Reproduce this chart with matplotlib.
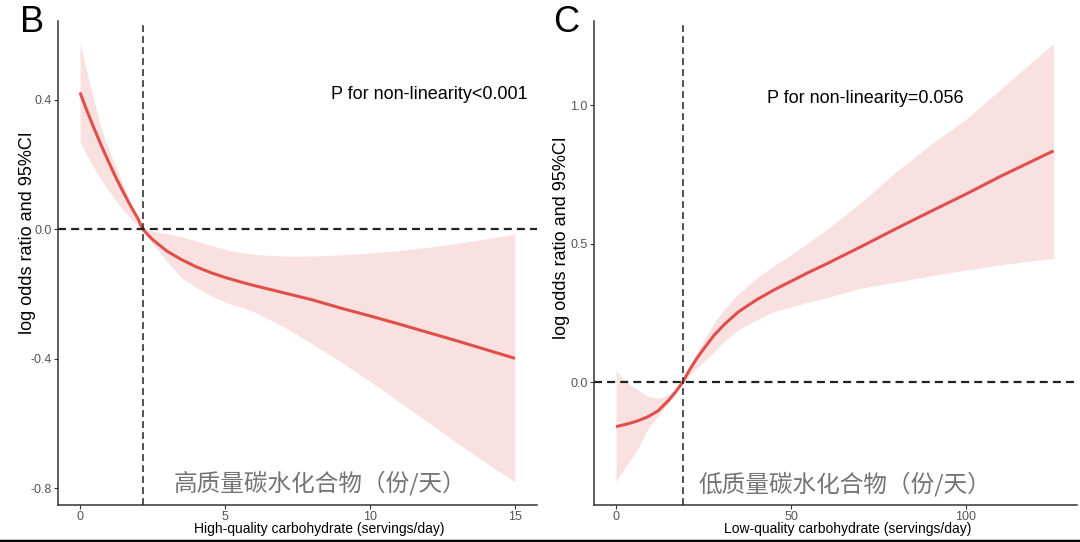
import matplotlib
matplotlib.use("Agg")
import matplotlib.pyplot as plt
from matplotlib.lines import Line2D

plt.rcParams["font.family"] = ["Liberation Sans", "DejaVu Sans"]

# panel B: high-quality carbohydrate
hq_x = [0, 0.25, 0.5, 0.75, 1.0, 1.25, 1.5, 1.75, 2.0, 2.16, 2.5, 3.0, 3.5, 4.0,
        4.5, 5.0, 5.5, 6.0, 7.0, 8.0, 9.0, 10.0, 11.0, 12.0, 13.0, 14.0, 15.0]
hq_fit = [0.422, 0.363, 0.308, 0.255, 0.205, 0.157, 0.113, 0.071, 0.032, 0.0,
          -0.032, -0.068, -0.094, -0.116, -0.134, -0.149, -0.162, -0.174, -0.196,
          -0.218, -0.244, -0.268, -0.293, -0.319, -0.345, -0.372, -0.399]
hq_upper = [0.574, 0.48, 0.39, 0.305, 0.245, 0.19, 0.135, 0.08, 0.03, 0.004,
            -0.006, -0.014, -0.024, -0.036, -0.05, -0.063, -0.072, -0.078, -0.083,
            -0.083, -0.079, -0.074, -0.066, -0.056, -0.044, -0.03, -0.015]
hq_lower = [0.27, 0.225, 0.185, 0.15, 0.117, 0.087, 0.058, 0.033, 0.01, -0.004,
            -0.045, -0.1, -0.15, -0.18, -0.205, -0.225, -0.24, -0.255, -0.3,
            -0.354, -0.41, -0.47, -0.533, -0.596, -0.66, -0.722, -0.78]
hq_ref = 2.16

# panel C: low-quality carbohydrate
lq_x = [0, 3, 6, 9, 12, 15, 17, 19, 21, 23, 25, 28, 31, 35, 40, 45, 50, 55, 60,
        70, 80, 90, 100, 110, 125]
lq_fit = [-0.160, -0.151, -0.140, -0.125, -0.103, -0.065, -0.035, 0.0, 0.045,
          0.085, 0.12, 0.17, 0.21, 0.255, 0.297, 0.333, 0.365, 0.397, 0.427,
          0.49, 0.555, 0.618, 0.68, 0.745, 0.836]
lq_upper = [0.042, 0.0, -0.025, -0.05, -0.058, -0.045, -0.025, 0.003, 0.06,
            0.105, 0.15, 0.215, 0.265, 0.32, 0.375, 0.42, 0.46, 0.505, 0.55,
            0.65, 0.76, 0.86, 0.95, 1.06, 1.224]
lq_lower = [-0.359, -0.30, -0.245, -0.17, -0.12, -0.075, -0.04, -0.003, 0.025,
            0.05, 0.075, 0.11, 0.15, 0.19, 0.225, 0.255, 0.272, 0.29, 0.305,
            0.34, 0.362, 0.385, 0.405, 0.425, 0.448]
lq_ref = 19.0

LINE = "#e0504a"
BAND = "#f9e1e1"
AXIS = "#333333"
TICK = "#555555"
CJK = ["Noto Sans CJK SC", "DejaVu Sans"]


def draw_panel(ax, x, fit, lo, hi, ref, xlim, ylim, xticks, yticks):
    ax.fill_between(x, lo, hi, color=BAND, lw=0, zorder=1)
    ax.plot(x, fit, color=LINE, lw=2.2, zorder=2, solid_capstyle="butt")
    ax.axhline(0, color="#222222", lw=1.6, ls=(0, (3.6, 2.3)), zorder=3)
    ax.axvline(ref, color="#222222", lw=1.1, ls=(0, (4.5, 2.7)), zorder=3)
    ax.set_xlim(*xlim)
    ax.set_ylim(*ylim)
    ax.set_xticks(xticks)
    ax.set_yticks(yticks)
    ax.set_yticklabels([f"{v:.1f}" for v in yticks])
    for s in ("top", "right"):
        ax.spines[s].set_visible(False)
    for s in ("left", "bottom"):
        ax.spines[s].set_color(AXIS)
        ax.spines[s].set_linewidth(1.1)
    ax.tick_params(direction="out", length=3, width=0.8, color=AXIS,
                   labelcolor=TICK, labelsize=9, pad=1.5)


fig = plt.figure(figsize=(10.8, 5.42), dpi=100)
W, H = 1080, 542

ax_b = fig.add_axes([58 / W, 1 - 505 / H, 479 / W, 484 / H])
ax_c = fig.add_axes([594 / W, 1 - 505 / H, 483 / W, 484 / H])

draw_panel(ax_b, hq_x, hq_fit, hq_lower, hq_upper, hq_ref,
           (-0.76, 15.76), (-0.852, 0.643), [0, 5, 10, 15], [-0.8, -0.4, 0.0, 0.4])
draw_panel(ax_c, lq_x, lq_fit, lq_lower, lq_upper, lq_ref,
           (-6.3, 131.7), (-0.443, 1.305), [0, 50, 100], [0.0, 0.5, 1.0])

# p-values
ax_b.text(0.981, 0.849, "P for non-linearity<0.001", transform=ax_b.transAxes,
          ha="right", va="center", fontsize=13)
ax_c.text(0.562, 0.839, "P for non-linearity=0.056", transform=ax_c.transAxes,
          ha="center", va="center", fontsize=13)

# chinese captions
ax_b.text(0.547, 0.045, "高质量碳水化合物（份/天）", transform=ax_b.transAxes,
          ha="center", va="center", fontsize=17, color="#747474", family=CJK)
ax_c.text(0.519, 0.043, "低质量碳水化合物（份/天）", transform=ax_c.transAxes,
          ha="center", va="center", fontsize=17, color="#747474", family=CJK)

# axis titles
fig.text(28 / W, 1 - 233 / H, "log odds ratio and 95%CI", rotation=90,
         ha="center", va="center", fontsize=13)
fig.text(562 / W, 1 - 238 / H, "log odds ratio and 95%CI", rotation=90,
         ha="center", va="center", fontsize=13)
fig.text(319 / W, 1 - 529 / H, "High-quality carbohydrate (servings/day)",
         ha="center", va="center", fontsize=10)
fig.text(848 / W, 1 - 529 / H, "Low-quality carbohydrate (servings/day)",
         ha="center", va="center", fontsize=10)

# panel letters
fig.text(20 / W, 1 - 32 / H, "B", fontsize=26, ha="left", va="baseline")
fig.text(553 / W, 1 - 32 / H, "C", fontsize=26, ha="left", va="baseline")

# page rule at the bottom
fig.add_artist(Line2D([0, 1], [1.5 / H, 1.5 / H], transform=fig.transFigure,
                      color="black", lw=2.5))

fig.savefig("out.png", dpi=100)
